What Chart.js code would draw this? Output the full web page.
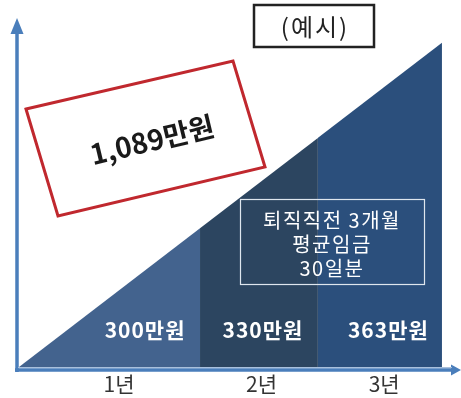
<!DOCTYPE html>
<html>
<head>
<meta charset="utf-8">
<script src="https://cdn.jsdelivr.net/npm/chart.js@4"></script>
<style>
  html,body{margin:0;padding:0;background:#fff;}
  #wrap{width:461px;height:398px;}
</style>
</head>
<body>
<div id="wrap"><canvas id="c" width="461" height="398"></canvas></div>
<script>
// ---- data ----
const categories = ['1년', '2년', '3년'];
const amounts = [300, 330, 363];          // 만원 per year
const totalAmount = 1089;                  // 만원
const sectionEdges = [0, 1.284, 2.12, 3];  // x extent of each year's slice
const tickPositions = [0.71, 1.72, 2.59];  // where year labels sit
const amountLabelPos = [0.894, 1.73, 2.62];
const noteLines = ['퇴직직전 3개월', '평균임금', '30일분'];
const exampleLabel = '(예시)';
const sectionColors = ['#43638e', '#2c4560', '#2b4f7c'];

const FONT = "'Noto Sans CJK KR', 'Noto Sans', sans-serif";

const datasets = categories.map((c, i) => ({
  label: c,
  data: [
    { x: sectionEdges[i], y: sectionEdges[i] },
    { x: sectionEdges[i + 1], y: sectionEdges[i + 1] }
  ],
  fill: 'origin',
  backgroundColor: sectionColors[i],
  borderWidth: 0,
  borderColor: 'rgba(0,0,0,0)',
  pointRadius: 0,
  tension: 0
}));

const decor = {
  id: 'decor',
  afterDatasetsDraw(chart) {
    const ctx = chart.ctx;
    const xs = chart.scales.x, ys = chart.scales.y;
    const ca = chart.chartArea;
    const axisColor = '#4a7ebb';
    ctx.save();

    // section amount labels
    ctx.fillStyle = '#ffffff';
    ctx.font = 'bold 21px ' + FONT;
    ctx.letterSpacing = '1px';
    ctx.textAlign = 'center';
    ctx.textBaseline = 'middle';
    amounts.forEach((v, i) => {
      ctx.fillText(v + '만원', xs.getPixelForValue(amountLabelPos[i]), 330);
    });

    // note box
    ctx.strokeStyle = '#dfe6ee';
    ctx.lineWidth = 1.2;
    ctx.strokeRect(240.5, 199.5, 184, 85);
    ctx.font = '20px ' + FONT;
    ctx.letterSpacing = '1.5px';
    ctx.fillStyle = '#ffffff';
    const ny = [220, 244, 268];
    noteLines.forEach((t, i) => ctx.fillText(t, 332, ny[i]));

    // axes
    ctx.letterSpacing = '0px';
    ctx.strokeStyle = axisColor;
    ctx.fillStyle = axisColor;
    ctx.lineWidth = 3.5;
    const x0 = ca.left - 2;
    const yb = ys.getPixelForValue(0) + 3;
    ctx.beginPath();
    ctx.moveTo(x0, yb + 2);
    ctx.lineTo(x0, 32);
    ctx.stroke();
    ctx.beginPath();
    ctx.moveTo(x0 - 2, yb);
    ctx.lineTo(452, yb);
    ctx.stroke();
    // arrow heads
    ctx.beginPath();
    ctx.moveTo(x0, 18); ctx.lineTo(x0 + 6.5, 34); ctx.lineTo(x0 - 6.5, 34); ctx.closePath(); ctx.fill();
    ctx.beginPath();
    ctx.moveTo(461, yb); ctx.lineTo(451, yb - 5.5); ctx.lineTo(451, yb + 5.5); ctx.closePath(); ctx.fill();
    // thin light line under triangle
    ctx.strokeStyle = '#a9c0dc';
    ctx.lineWidth = 1;
    ctx.beginPath();
    ctx.moveTo(x0 + 1, yb - 2.5); ctx.lineTo(452, yb - 2.5);
    ctx.stroke();

    // example box
    ctx.strokeStyle = '#222222';
    ctx.lineWidth = 2.5;
    ctx.strokeRect(254, 5, 120, 42);
    ctx.fillStyle = '#222222';
    ctx.font = '24px ' + FONT;
    ctx.letterSpacing = '2px';
    ctx.fillText(exampleLabel, 315, 27);

    // red tilted box
    ctx.letterSpacing = '0px';
    ctx.strokeStyle = '#c0282e';
    ctx.lineWidth = 3;
    ctx.beginPath();
    ctx.moveTo(26, 109); ctx.lineTo(233, 61); ctx.lineTo(265, 167); ctx.lineTo(58, 216);
    ctx.closePath();
    ctx.stroke();
    ctx.translate(152, 140);
    ctx.rotate(-13.5 * Math.PI / 180);
    ctx.fillStyle = '#1a1a1a';
    ctx.font = 'bold 28px ' + FONT;
    ctx.fillText(totalAmount.toLocaleString('en-US') + '만원', 0, 0);

    ctx.restore();
  }
};

new Chart(document.getElementById('c'), {
  type: 'line',
  data: { datasets },
  options: {
    responsive: false,
    animation: false,
    events: [],
    layout: { padding: { left: 19, top: 18, right: 1, bottom: 0 } },
    plugins: { legend: { display: false }, tooltip: { enabled: false } },
    scales: {
      x: {
        type: 'linear',
        min: 0,
        max: 3.128,
        grid: { display: false, drawTicks: false },
        border: { display: false },
        afterFit(s) { s.height = 31; },
        afterBuildTicks(s) { s.ticks = tickPositions.map(v => ({ value: v })); },
        ticks: {
          autoSkip: false,
          maxRotation: 0,
          padding: 4,
          color: '#333333',
          font: { family: FONT, size: 21 },
          callback(v, i) { return categories[i]; }
        }
      },
      y: {
        type: 'linear',
        display: false,
        min: 0,
        max: 3.23
      }
    }
  },
  plugins: [decor]
});
</script>
</body>
</html>
